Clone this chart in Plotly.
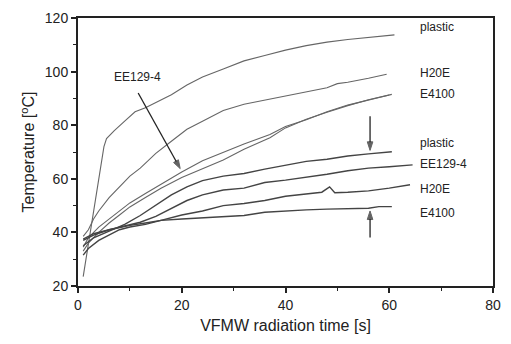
import plotly.graph_objects as go

# --- data ---
plastic_u_x = [1, 2, 3, 4, 5, 5.5, 7, 9, 11, 13, 15, 18, 21, 24, 28, 32, 36, 40, 44, 48, 52, 56, 61]
plastic_u_y = [23.5, 36, 48, 60, 72, 75, 78, 81.5, 85, 86.5, 88.5, 91.4, 95, 98, 101, 104, 106, 108, 109.7, 111, 112, 112.8, 113.7]

h20e_u_x = [1, 2, 3, 4, 6, 8, 10, 12, 15, 18, 21, 24, 28, 32, 36, 40, 44, 48, 50, 52, 56, 59.5]
h20e_u_y = [38.5, 41, 45, 48, 53, 57, 61, 64, 69.5, 74, 78.5, 81.5, 85.5, 87.8, 89.3, 91, 92.5, 94, 95.5, 96, 97.5, 99]

ee129_u_x = [1, 2, 4, 6, 8, 10, 13, 16, 20, 24, 28, 32, 37, 40, 44, 48, 52, 56, 60]
ee129_u_y = [34.5, 38, 42, 45, 48, 51, 54.5, 58, 62.5, 66.7, 70, 73, 76.5, 79.5, 82, 85, 87.5, 89.5, 91.3]

e4100_u_x = [1, 2, 4, 6, 8, 10, 13, 16, 20, 24, 28, 32, 37, 40, 44, 48, 52, 56, 60.5]
e4100_u_y = [33, 36, 40, 43.5, 46.5, 49.5, 53, 56.5, 60.5, 63.6, 67, 71, 75.3, 79, 82.2, 84.8, 87.3, 89.5, 91.5]

plastic_l_x = [1, 3, 6, 9, 12, 15, 18, 21, 24, 28, 32, 36, 40, 44, 48, 52, 56, 60.5]
plastic_l_y = [35, 38, 40.5, 43, 46.3, 50, 54, 57, 59.3, 61, 62, 63.6, 65, 66.5, 67.3, 68.5, 69.3, 70.1]

ee129_l_x = [1, 3, 6, 9, 12, 15, 18, 21, 24, 28, 32, 36, 40, 44, 48, 52, 56, 60, 64.5]
ee129_l_y = [37, 39, 41, 42.5, 43.8, 46, 49, 51.9, 54, 55.8, 56.5, 58.6, 59.5, 60.5, 61.7, 63, 64, 64.5, 65.2]

h20e_l_x = [1, 2, 4, 6, 8, 10, 13, 16, 20, 24, 28, 32, 36, 40, 44, 47, 48.5, 49.5, 52, 56, 60, 64]
h20e_l_y = [31.5, 34, 37, 39, 41, 42, 43, 44.5, 46.5, 48, 50, 50.8, 51.9, 53.5, 54.3, 55, 57, 54.8, 55, 55.5, 56.5, 57.8]

e4100_l_x = [1, 3, 6, 10, 13, 16, 20, 24, 28, 32, 36, 40, 44, 48, 52, 56, 58, 60.5]
e4100_l_y = [37.5, 39.5, 41, 42.6, 43.5, 44.5, 45, 45.5, 46, 46.3, 47.5, 48, 48.4, 48.7, 48.8, 49, 49.6, 49.6]

label_text = ["plastic", "H20E", "E4100", "plastic", "EE129-4", "H20E", "E4100"]
label_y = [116.7, 99.3, 91.5, 73.3, 65.6, 56.3, 47.4]
label_x = 65.6

# arrows: (tail x, tail y, head x, head y)
arrow_ee129 = [11.6, 92.0, 19.7, 63.8]
arrow_down = [56.3, 83.3, 56.3, 70.6]
arrow_up = [56.3, 38.1, 56.3, 48.0]

x_ticks = [0, 20, 40, 60, 80]
y_ticks = [20, 40, 60, 80, 100, 120]

FONT = "Liberation Sans, Arial, sans-serif"

fig = go.Figure()
upper = [(plastic_u_x, plastic_u_y), (h20e_u_x, h20e_u_y), (ee129_u_x, ee129_u_y), (e4100_u_x, e4100_u_y)]
lower = [(plastic_l_x, plastic_l_y), (ee129_l_x, ee129_l_y), (h20e_l_x, h20e_l_y), (e4100_l_x, e4100_l_y)]
for xs, ys in upper:
    fig.add_trace(go.Scatter(x=xs, y=ys, mode="lines", line=dict(color="#666666", width=1.1), showlegend=False))
for xs, ys in lower:
    fig.add_trace(go.Scatter(x=xs, y=ys, mode="lines", line=dict(color="#444444", width=1.4), showlegend=False))

for a in (arrow_ee129, arrow_down, arrow_up):
    fig.add_trace(go.Scatter(x=[a[0], a[2]], y=[a[1], a[3]], mode="lines+markers",
                             line=dict(color="#222", width=1.3),
                             marker=dict(symbol="arrow", angleref="previous", size=[0, 9], color="#222",
                                         line=dict(color="#222", width=1)),
                             showlegend=False, hoverinfo="skip"))

for t, y in zip(label_text, label_y):
    fig.add_annotation(x=label_x, y=y, text=t, showarrow=False, xanchor="left", yanchor="middle",
                       font=dict(family=FONT, size=12, color="#222"))

fig.add_annotation(x=11.4, y=98.1, text="EE129-4", showarrow=False,
                   font=dict(family=FONT, size=12, color="#222"))

axis_common = dict(showline=True, linecolor="#222", linewidth=2, mirror=True, showgrid=False,
                   zeroline=False, ticks="outside", ticklen=5, tickwidth=1.5, tickcolor="#222",
                   tickfont=dict(family=FONT, size=14, color="#222"),
                   minor=dict(ticks="outside", ticklen=3, tickwidth=1, tickcolor="#222"))
fig.update_xaxes(range=[0, 80], tickvals=x_ticks, minor_dtick=10,
                 title=dict(text="VFMW radiation time [s]", font=dict(family=FONT, size=16, color="#222"), standoff=8),
                 **axis_common)
fig.update_yaxes(range=[20, 120], tickvals=y_ticks, minor_dtick=10,
                 title=dict(text="Temperature [<sup>o</sup>C]", font=dict(family=FONT, size=16, color="#222"), standoff=6),
                 **axis_common)

fig.update_layout(width=511, height=344, margin=dict(l=78, r=10, t=16, b=58),
                  paper_bgcolor="white", plot_bgcolor="white")
fig.write_html("out.html")
